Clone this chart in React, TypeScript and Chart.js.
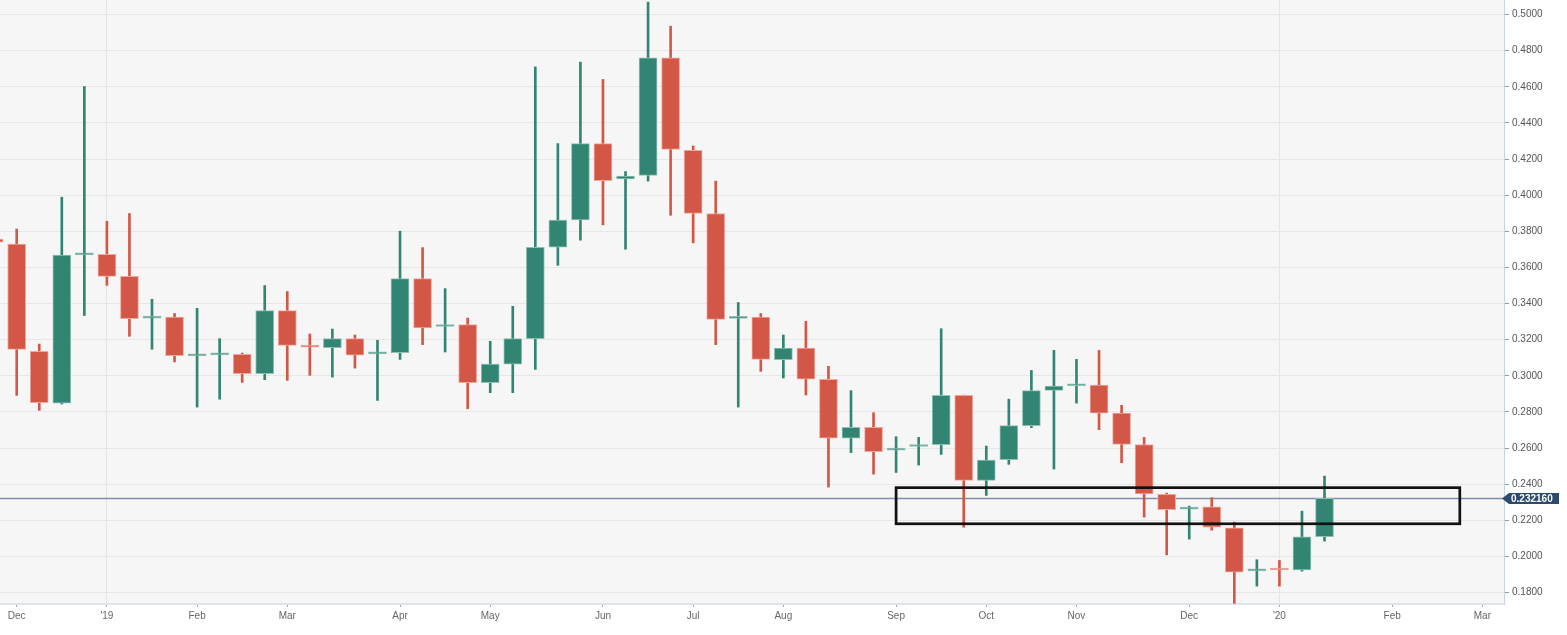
import React, { useEffect, useRef } from "react";
import { Chart, registerables } from "chart.js";

Chart.register(...registerables);

// Weekly candles: week index (0 = first week of Dec 2018)
const WEEKS = [-1,0,1,2,3,4,5,6,7,8,9,10,11,12,13,14,15,16,17,18,19,20,21,22,23,24,25,26,27,28,29,30,31,32,33,34,35,36,37,38,39,40,41,42,43,44,45,46,47,48,49,50,51,52,53,54,55,56,57,58];
const OPEN = [0.3757,0.3730,0.3136,0.2849,0.3670,0.3673,0.3551,0.3320,0.3326,0.3111,0.3116,0.3119,0.3012,0.3361,0.3161,0.3156,0.3206,0.3122,0.3129,0.3539,0.3273,0.3284,0.2962,0.3065,0.3206,0.3712,0.3863,0.4286,0.4090,0.4109,0.4761,0.4249,0.3899,0.3318,0.3326,0.3090,0.3154,0.2981,0.2655,0.2715,0.2589,0.2609,0.2619,0.2892,0.2421,0.2536,0.2724,0.2920,0.2945,0.2949,0.2794,0.2620,0.2344,0.2262,0.2275,0.2159,0.1920,0.1927,0.1926,0.2109];
const HIGH = [0.3760,0.3813,0.3176,0.3989,0.4602,0.3856,0.3899,0.3424,0.3345,0.3374,0.3206,0.3126,0.3500,0.3467,0.3232,0.3259,0.3226,0.3197,0.3801,0.3710,0.3483,0.3320,0.3191,0.3385,0.4711,0.4286,0.4737,0.4641,0.4131,0.5069,0.4936,0.4273,0.4078,0.3406,0.3345,0.3226,0.3302,0.3053,0.2918,0.2796,0.2663,0.2659,0.3261,0.2893,0.2611,0.2871,0.3030,0.3141,0.3091,0.3141,0.2837,0.2659,0.2351,0.2279,0.2325,0.2190,0.1982,0.1978,0.2251,0.2445];
const LOW = [0.3737,0.2892,0.2809,0.2844,0.3334,0.3501,0.3219,0.3147,0.3077,0.2827,0.2871,0.2964,0.2979,0.2975,0.3003,0.2993,0.3043,0.2864,0.3091,0.3173,0.3132,0.2818,0.2907,0.2907,0.3036,0.3612,0.3751,0.3836,0.3701,0.4078,0.3889,0.3736,0.3173,0.2827,0.3025,0.2988,0.2894,0.2384,0.2575,0.2456,0.2465,0.2506,0.2565,0.2162,0.2338,0.2510,0.2713,0.2484,0.2849,0.2702,0.2519,0.2218,0.2009,0.2096,0.2146,0.1741,0.1836,0.1836,0.1919,0.2085];
const CLOSE = [0.3740,0.3147,0.2852,0.3669,0.3672,0.3551,0.3317,0.3323,0.3112,0.3113,0.3118,0.3012,0.3361,0.3169,0.3159,0.3206,0.3114,0.3124,0.3539,0.3265,0.3275,0.2962,0.3065,0.3206,0.3712,0.3863,0.4286,0.4081,0.4106,0.4761,0.4253,0.3899,0.3313,0.3321,0.3091,0.3154,0.2982,0.2655,0.2715,0.2580,0.2592,0.2612,0.2892,0.2421,0.2534,0.2724,0.2918,0.2944,0.2947,0.2794,0.2620,0.2347,0.2259,0.2272,0.2162,0.1913,0.1922,0.1925,0.2109,0.23216];

// Month tick labels on the week axis
const MONTH_TICK_WEEKS = [0,4,8,12,17,21,26,30,34,39,43,47,52,56,61,65];
const MONTH_LABELS = ["Dec","'19","Feb","Mar","Apr","May","Jun","Jul","Aug","Sep","Oct","Nov","Dec","'20","Feb","Mar"];
const YEAR_LABELS = ["'19","'20"];

// Axis ranges
const X_MIN = -0.7406;
const X_MAX = 65.96;
const Y_MIN = 0.17369;
const Y_MAX = 0.50808;
const Y_STEP = 0.02;

// Current price line and highlighted zone
const CURRENT_PRICE = 0.23216;
const ZONE_WEEK_START = 39;
const ZONE_WEEK_END = 64;
const ZONE_LOW = 0.2181;
const ZONE_HIGH = 0.2381;

const GREEN = "#338573";
const GREEN_EDGE = "#8fc0b2";
const RED = "#d35746";
const RED_EDGE = "#eea89e";
const FONT = "'Liberation Sans', Arial, sans-serif";

export default function App() {
  const ref = useRef<HTMLCanvasElement | null>(null);

  useEffect(() => {
    const canvas = ref.current;
    if (!canvas) return;
    const up = CLOSE.map((c, i) => c >= OPEN[i]);

    const bgPlugin = {
      id: "bg",
      beforeDraw(chart: any) {
        const { ctx, chartArea } = chart;
        ctx.save();
        ctx.fillStyle = "#ffffff";
        ctx.fillRect(0, 0, chart.width, chart.height);
        ctx.fillStyle = "#f6f6f6";
        ctx.fillRect(chartArea.left, chartArea.top, chartArea.right - chartArea.left, chartArea.bottom - chartArea.top);
        ctx.restore();
      },
      beforeDatasetsDraw(chart: any) {
        const { ctx, chartArea, scales } = chart;
        const y = scales.y.getPixelForValue(CURRENT_PRICE);
        ctx.save();
        ctx.strokeStyle = "#7f8fa8";
        ctx.lineWidth = 1.5;
        ctx.beginPath();
        ctx.moveTo(chartArea.left, y);
        ctx.lineTo(chartArea.right, y);
        ctx.stroke();
        ctx.restore();
      },
      afterDatasetsDraw(chart: any) {
        const { ctx, scales } = chart;
        const x0 = scales.x.getPixelForValue(ZONE_WEEK_START);
        const x1 = scales.x.getPixelForValue(ZONE_WEEK_END);
        const y0 = scales.y.getPixelForValue(ZONE_HIGH);
        const y1 = scales.y.getPixelForValue(ZONE_LOW);
        ctx.save();
        ctx.strokeStyle = "#111111";
        ctx.lineWidth = 2.7;
        ctx.strokeRect(x0, y0, x1 - x0, y1 - y0);
        ctx.restore();
      },
      afterDraw(chart: any) {
        const { ctx, chartArea, scales } = chart;
        const y = scales.y.getPixelForValue(CURRENT_PRICE);
        const tip = chartArea.right - 2;
        const end = chartArea.right + 55;
        ctx.save();
        ctx.fillStyle = "#2c4a6c";
        ctx.beginPath();
        ctx.moveTo(tip, y);
        ctx.lineTo(tip + 7, y - 5.5);
        ctx.lineTo(end, y - 5.5);
        ctx.lineTo(end, y + 5.5);
        ctx.lineTo(tip + 7, y + 5.5);
        ctx.closePath();
        ctx.fill();
        ctx.fillStyle = "#ffffff";
        ctx.font = "bold 10px " + FONT;
        ctx.textBaseline = "middle";
        ctx.textAlign = "left";
        ctx.fillText(CURRENT_PRICE.toFixed(6), chartArea.right + 7, y + 0.5);
        ctx.restore();
      },
    };

    const chart = new Chart(canvas, {
      type: "bar",
      data: {
        datasets: [
          {
            label: "wick",
            data: WEEKS.map((w, i) => ({ x: w, y: [LOW[i], HIGH[i]] })) as any,
            backgroundColor: up.map((u) => (u ? GREEN : RED)),
            borderWidth: 0,
            barThickness: 2,
            grouped: false,
            order: 2,
          } as any,
          {
            label: "body",
            data: WEEKS.map((w, i) => ({ x: w, y: [OPEN[i], CLOSE[i]] })) as any,
            backgroundColor: up.map((u) => (u ? GREEN : RED)),
            borderColor: up.map((u) => (u ? GREEN_EDGE : RED_EDGE)),
            borderWidth: 1,
            borderSkipped: false,
            barThickness: 18,
            minBarLength: 2,
            grouped: false,
            order: 1,
          } as any,
        ],
      },
      options: {
        responsive: false,
        devicePixelRatio: 1,
        animation: false,
        layout: { padding: 0 },
        plugins: { legend: { display: false }, tooltip: { enabled: false } },
        scales: {
          x: {
            type: "linear",
            position: "bottom",
            min: X_MIN,
            max: X_MAX,
            offset: false,
            grid: {
              offset: false,
              color: (c: any) =>
                c.tick && YEAR_LABELS.includes(MONTH_LABELS[MONTH_TICK_WEEKS.indexOf(c.tick.value)]) ? "#e4e4e4" : "rgba(0,0,0,0)",
              tickColor: "#a8a8a8",
              tickLength: 3,
              lineWidth: 1,
            },
            border: { color: "#dfe5ee", width: 2 },
            afterBuildTicks: (scale: any) => {
              scale.ticks = MONTH_TICK_WEEKS.map((v) => ({ value: v }));
            },
            afterFit: (scale: any) => {
              scale.height = 31;
              scale.paddingLeft = 0;
              scale.paddingRight = 0;
            },
            ticks: {
              autoSkip: false,
              maxRotation: 0,
              padding: 3,
              color: "#666666",
              font: { family: FONT, size: 10 },
              callback: (v: any) => {
                const k = MONTH_TICK_WEEKS.indexOf(Number(v));
                return k >= 0 ? MONTH_LABELS[k] : "";
              },
            },
          } as any,
          y: {
            type: "linear",
            position: "right",
            min: Y_MIN,
            max: Y_MAX,
            beginAtZero: false,
            grid: { color: "#e7e7e7", tickColor: "#9a9a9a", tickLength: 5, lineWidth: 1 },
            border: { color: "#c9d2e3", width: 1 },
            afterFit: (scale: any) => {
              scale.width = 63;
              scale.paddingTop = 0;
              scale.paddingBottom = 0;
            },
            ticks: {
              stepSize: Y_STEP,
              includeBounds: false,
              padding: 3,
              color: "#555555",
              font: { family: FONT, size: 10 },
              callback: (v: any) => Number(v).toFixed(4),
            },
          } as any,
        },
      },
      plugins: [bgPlugin],
    });

    return () => chart.destroy();
  }, []);

  return (
    <div style={{ position: "absolute", left: 0, top: 0, width: 1567, height: 635 }}>
      <canvas ref={ref} width={1567} height={635} />
    </div>
  );
}
